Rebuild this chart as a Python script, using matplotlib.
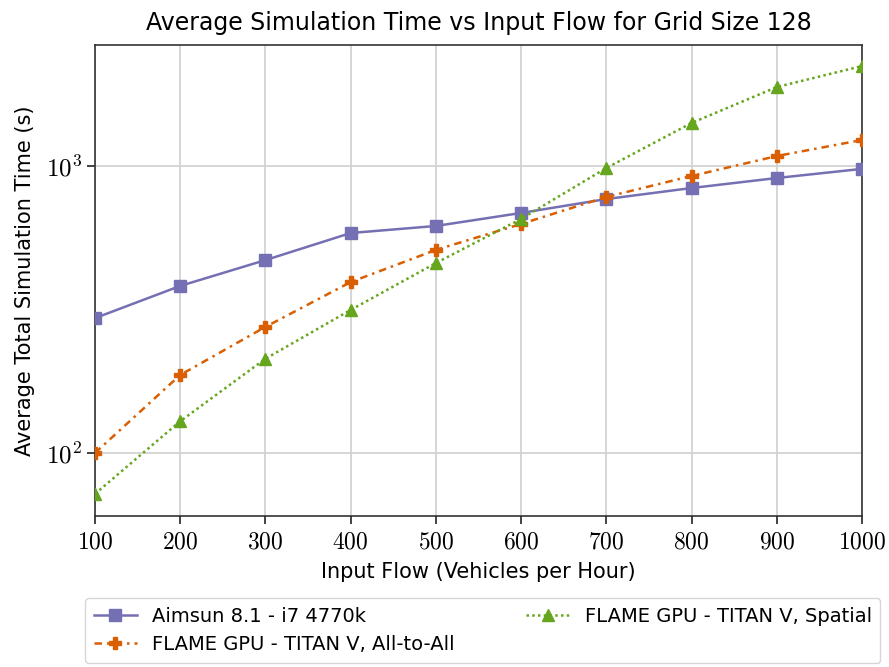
import numpy as np
import matplotlib
matplotlib.use('Agg')
import matplotlib.pyplot as plt
from matplotlib.ticker import FuncFormatter, FixedLocator, NullLocator

# data
flows = [100, 200, 300, 400, 500, 600, 700, 800, 900, 1000]
aimsun = [295, 382, 470, 584, 618, 686, 767, 838, 908, 977]
flame_all = [100, 187, 275, 394, 510, 628, 780, 923, 1083, 1232]
flame_spatial = [72, 129, 213, 315, 459, 654, 984, 1412, 1884, 2230]

plt.rcParams['mathtext.fontset'] = 'cm'
plt.rcParams['font.family'] = 'DejaVu Sans'

fig = plt.figure(figsize=(8.89, 6.67), dpi=100)
ax = fig.add_axes([95 / 889, 1 - 516 / 667, 767 / 889, 471 / 667])

ax.plot(flows, aimsun, color='#7570b3', linestyle='-', marker='s', markersize=8,
        linewidth=1.8, label='Aimsun 8.1 - i7 4770k', zorder=3)
ax.plot(flows, flame_all, color='#d95f02', linestyle=(0, (3, 2, 1, 2)), marker='P', markersize=9,
        linewidth=1.8, label='FLAME GPU - TITAN V, All-to-All', zorder=3)
ax.plot(flows, flame_spatial, color='#66a61e', linestyle=(0, (1, 1.3)), marker='^', markersize=9,
        linewidth=1.8, label='FLAME GPU - TITAN V, Spatial', zorder=3)

ax.set_yscale('log')
ax.set_xlim(100, 1000)
ax.set_ylim(60.3, 2640)
ax.xaxis.set_major_locator(FixedLocator(flows))
ax.xaxis.set_major_formatter(FuncFormatter(lambda v, p: r'$%d$' % v))
ax.yaxis.set_major_locator(FixedLocator([100, 1000]))
ax.yaxis.set_minor_locator(NullLocator())
ax.yaxis.set_major_formatter(FuncFormatter(lambda v, p: r'$10^{%d}$' % round(np.log10(v))))
ax.tick_params(axis='both', direction='out', length=6, width=1.2, labelsize=17, color='#222222')
ax.tick_params(axis='y', labelsize=18)
ax.grid(True, color='#d0d0d0', linewidth=1.2, zorder=0)
ax.set_axisbelow(True)
for s in ax.spines.values():
    s.set_color('#333333')
    s.set_linewidth(1.2)

ax.set_title('Average Simulation Time vs Input Flow for Grid Size 128', fontsize=17, pad=11)
ax.set_xlabel('Input Flow (Vehicles per Hour)', fontsize=15, labelpad=6)
ax.set_ylabel('Average Total Simulation Time (s)', fontsize=15, labelpad=8)

ax.legend(loc='upper center', bbox_to_anchor=(-0.013, -0.176, 1.037, 0.001), ncol=2, fontsize=14,
          frameon=True, edgecolor='#cccccc', mode='expand', borderaxespad=0,
          handlelength=2.2, labelspacing=0.45, borderpad=0.45)

fig.savefig('out.png', dpi=100)
